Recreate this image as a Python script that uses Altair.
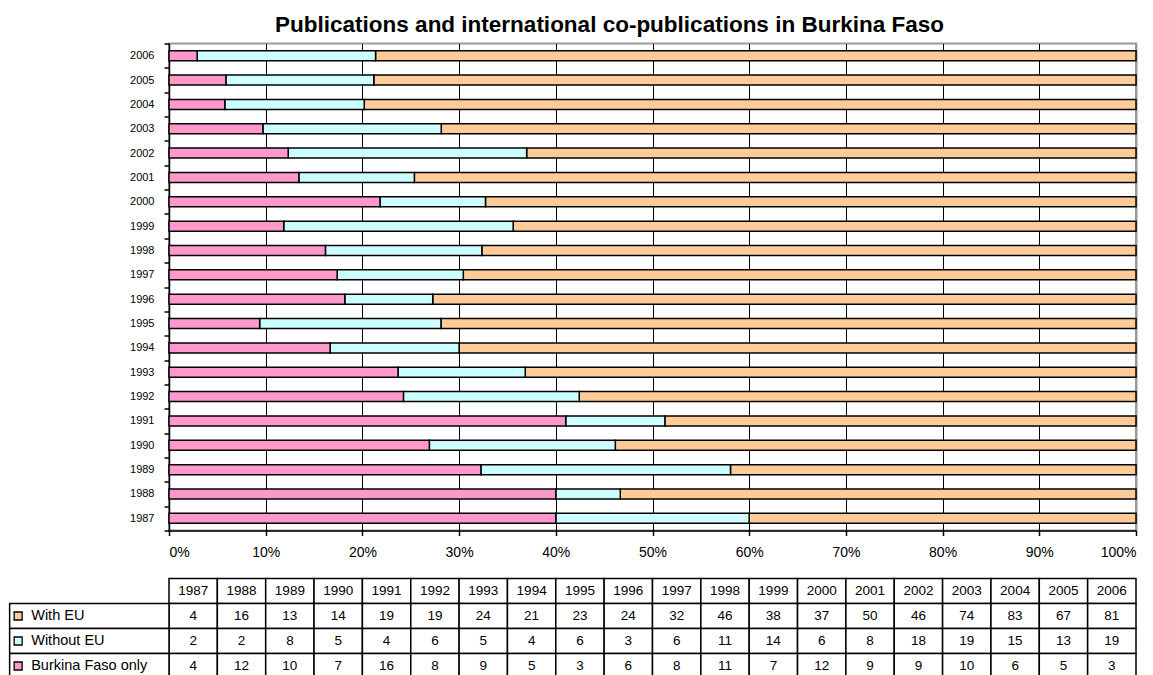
import altair as alt
import pandas as pd

years = [str(y) for y in range(1987, 2007)]
with_eu = [4, 16, 13, 14, 19, 19, 24, 21, 23, 24, 32, 46, 38, 37, 50, 46, 74, 83, 67, 81]
without_eu = [2, 2, 8, 5, 4, 6, 5, 4, 6, 3, 6, 11, 14, 6, 8, 18, 19, 15, 13, 19]
bf_only = [4, 12, 10, 7, 16, 8, 9, 5, 3, 6, 8, 11, 7, 12, 9, 9, 10, 6, 5, 3]
series = ["With EU", "Without EU", "Burkina Faso only"]
colors = ["#FFCC99", "#CCFFFF", "#FF99CC"]
stack_order = {"Burkina Faso only": 0, "Without EU": 1, "With EU": 2}
values_by_series = {"With EU": with_eu, "Without EU": without_eu, "Burkina Faso only": bf_only}

FONT = "Liberation Sans"

# ---------- bar chart data ----------
rows = []
for s in series:
    for y, v in zip(years, values_by_series[s]):
        rows.append({"year": y, "series": s, "value": v, "order": stack_order[s]})
bar_df = pd.DataFrame(rows)

color_scale = alt.Scale(domain=series, range=colors)

bars = alt.Chart(bar_df).mark_bar(size=10, stroke="black", strokeWidth=1.5).encode(
    x=alt.X(
        "value:Q",
        stack="normalize",
        scale=alt.Scale(domain=[0, 1], nice=False),
        axis=alt.Axis(
            format="%",
            values=[i / 10 for i in range(11)],
            grid=True,
            gridColor=alt.condition("datum.value >= 1", alt.value("#999999"), alt.value("black")),
            gridWidth=alt.condition("datum.value >= 1", alt.value(2), alt.value(1)),
            gridOpacity=1,
            domainColor="black",
            domainWidth=1.5,
            tickColor="black",
            tickWidth=1.5,
            tickSize=5,
            labelFontSize=14,
            labelColor="black",
            labelFont=FONT,
            labelPadding=10,
            title=None,
        ),
    ),
    y=alt.Y(
        "year:O",
        sort="descending",
        scale=alt.Scale(paddingInner=0, paddingOuter=0),
        axis=alt.Axis(
            title=None,
            tickBand="extent",
            labelFontSize=11,
            labelFont=FONT,
            labelColor="black",
            labelPadding=10,
            tickSize=5,
            tickWidth=1.5,
            tickColor="black",
            domainColor="black",
            domainWidth=1.5,
        ),
    ),
    color=alt.Color("series:N", scale=color_scale, legend=None),
    order=alt.Order("order:Q"),
).properties(
    width=967,
    height=487,
    view=alt.ViewBackground(stroke="#999999", strokeWidth=2),
    title=alt.TitleParams(
        "Publications and international co-publications in Burkina Faso",
        font=FONT,
        fontSize=22.5,
        fontWeight="bold",
        color="black",
        anchor="middle",
        frame="group",
        dx=-43,
        offset=1.5,
    ),
)

# ---------- table data ----------
LABEL_X0 = -3.296   # left edge of the label column, in column units
SWATCH_X = -3.12
LABEL_TEXT_X = -2.85
row_domain = ["header"] + series

cells = []
for i, y in enumerate(years):
    cells.append({"row": "header", "x0": i, "x1": i + 1, "xc": i + 0.5, "text": y})
    for s in series:
        cells.append({"row": s, "x0": i, "x1": i + 1, "xc": i + 0.5,
                      "text": str(values_by_series[s][i])})
cell_df = pd.DataFrame(cells)

label_df = pd.DataFrame({
    "row": series,
    "series": series,
    "x0": [LABEL_X0] * 3,
    "x1": [0] * 3,
    "xs": [SWATCH_X] * 3,
    "xt": [LABEL_TEXT_X] * 3,
})

x_tab = alt.Scale(domain=[0, 20], nice=False)
y_tab = alt.Scale(domain=row_domain, paddingInner=0, paddingOuter=0)

cell_rects = alt.Chart(cell_df).mark_rect(fill="white", stroke="black", strokeWidth=1.5).encode(
    x=alt.X("x0:Q", scale=x_tab, axis=None),
    x2="x1:Q",
    y=alt.Y("row:N", scale=y_tab, axis=None),
)
cell_text = alt.Chart(cell_df).mark_text(fontSize=13.5, font=FONT, color="black").encode(
    x=alt.X("xc:Q", scale=x_tab, axis=None),
    y=alt.Y("row:N", scale=y_tab, axis=None),
    text="text:N",
)
label_rects = alt.Chart(label_df).mark_rect(fill="white", stroke="black", strokeWidth=1.5).encode(
    x=alt.X("x0:Q", scale=x_tab, axis=None),
    x2="x1:Q",
    y=alt.Y("row:N", scale=y_tab, axis=None),
)
swatches = alt.Chart(label_df).mark_square(size=64, stroke="black", strokeWidth=1.3, opacity=1).encode(
    x=alt.X("xs:Q", scale=x_tab, axis=None),
    y=alt.Y("row:N", scale=y_tab, axis=None),
    fill=alt.Fill("series:N", scale=color_scale, legend=None),
)
label_text = alt.Chart(label_df).mark_text(fontSize=14.5, font=FONT, color="black", align="left").encode(
    x=alt.X("xt:Q", scale=x_tab, axis=None),
    y=alt.Y("row:N", scale=y_tab, axis=None),
    text="series:N",
)

table = alt.layer(cell_rects, label_rects, cell_text, swatches, label_text).properties(
    width=967,
    height=100,
    view=alt.ViewBackground(strokeWidth=0),
)

chart = alt.vconcat(bars, table, spacing=48).properties(
    bounds="flush",
    padding={"top": 4.5, "left": 0, "right": 0, "bottom": 0},
).configure(font=FONT)

chart.save("out.html", embed_options={"renderer": "svg", "actions": False})
